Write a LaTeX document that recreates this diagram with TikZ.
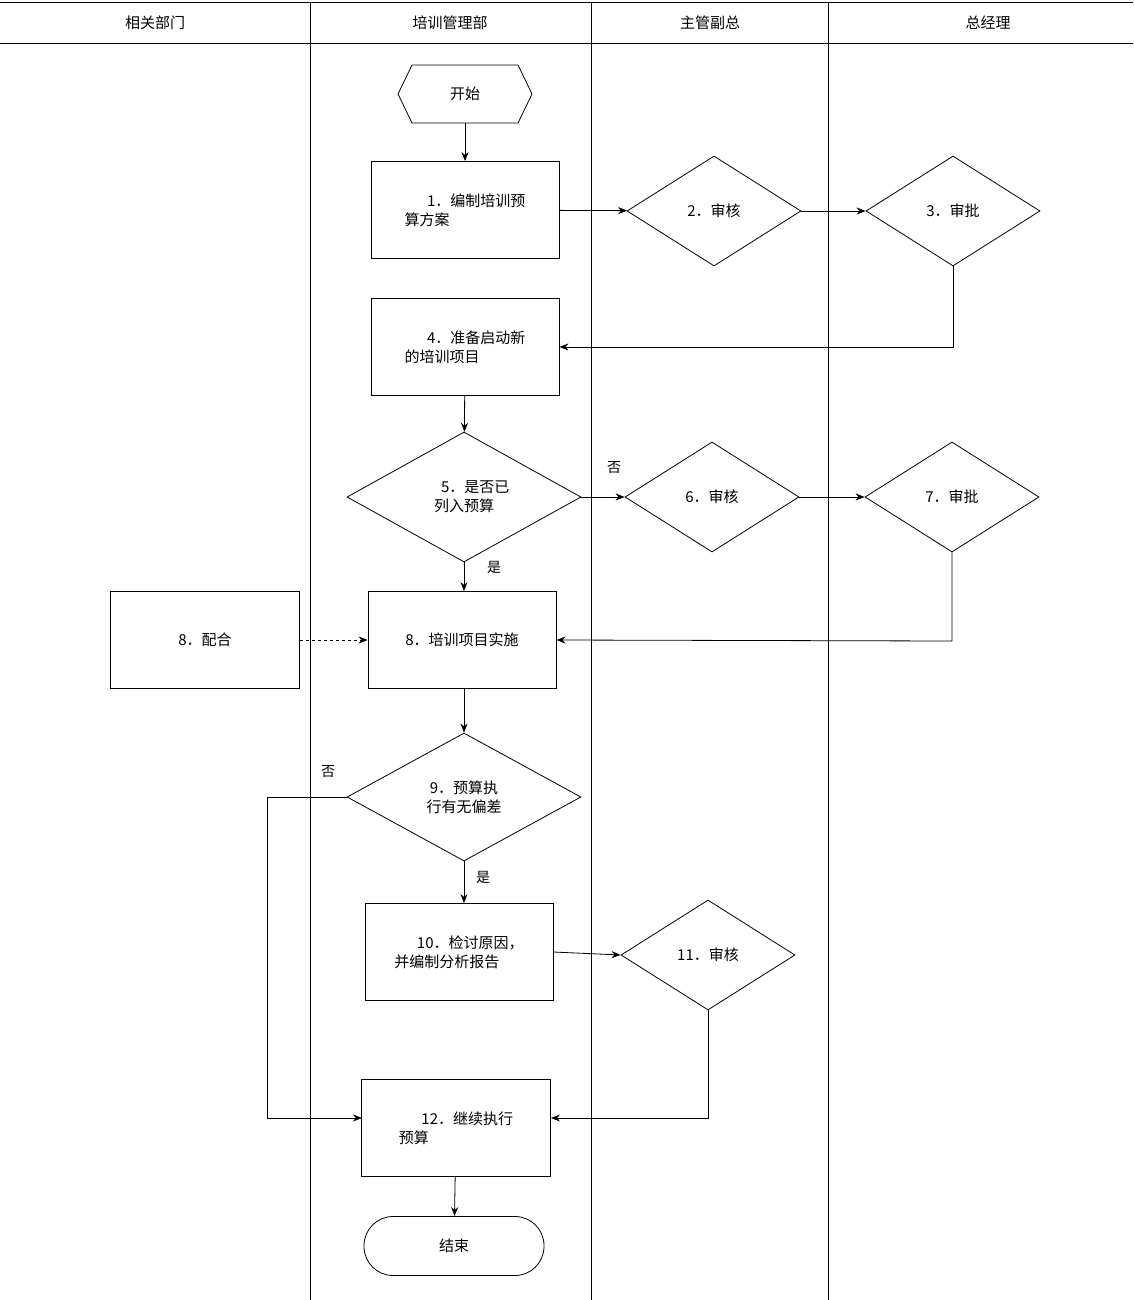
\documentclass[tikz,border=0pt]{standalone}
\usepackage{fontspec}
\setmainfont{Noto Sans CJK SC}
\usetikzlibrary{shapes.geometric,arrows.meta}
\begin{document}
\begin{tikzpicture}[x=1pt,y=-1pt,
 every node/.style={font=\fontsize{15}{19}\selectfont},
 box/.style={draw,thick,minimum width=188,minimum height=97,inner sep=4,align=left},
 dia/.style={draw,thick,diamond,minimum width=174,minimum height=110,inner sep=0,align=center},
 arr/.style={thick,-{Stealth[length=9,width=7]}},
 lbl/.style={font=\fontsize{14}{16}\selectfont}]
\useasboundingbox (0,0) rectangle (1133,1300);
\draw[thick] (0,2)--(1133,2) (0,43)--(1133,43);
\draw[thick] (310,2)--(310,1300) (591,2)--(591,1300) (828,2)--(828,1300);
\node at (155,23) {相关部门};
\node at (450,23) {培训管理部};
\node at (710,23) {主管副总};
\node at (988,23) {总经理};
\draw[thick] (398,94)--(412,65)--(518,65)--(532,94)--(518,123)--(412,123)--cycle;
\node (s) at (465,94) {开始};
\coordinate (sb) at (465,123);
\node[box] (b1) at (465,210) {\hspace{1.5em}1．编制培训预\\算方案};
\node[dia] (d2) at (714,211) {2．审核};
\node[dia] (d3) at (953,211) {3．审批};
\node[box] (b4) at (465,347) {\hspace{1.5em}4．准备启动新\\的培训项目};
\node[dia,minimum width=234,minimum height=130] (d5) at (464,497) {\hspace{1.5em}5．是否已\\列入预算};
\node[dia] (d6) at (712,497) {6．审核};
\node[dia] (d7) at (952,497) {7．审批};
\node[box,minimum width=189] (l8) at (205,640) {8．配合};
\node[box,align=center] (b8) at (462,640) {8．培训项目实施};
\node[dia,minimum width=234,minimum height=128] (d9) at (464,797) {9．预算执\\行有无偏差};
\node[box] (b10) at (459,952) {\hspace{1.5em}10．检讨原因，\\并编制分析报告};
\node[dia] (d11) at (708,955) {11．审核};
\node[box,minimum width=189] (b12) at (456,1128) {\hspace{1.5em}12．继续执行\\预算};
\node[draw,thick,rounded corners=29,minimum width=180,minimum height=59] (e) at (454,1246) {结束};
\draw[arr] (sb)--(b1);
\draw[arr] (b1)--(d2);
\draw[arr] (d2)--(d3);
\draw[arr] (d3.south)--(953,347)--(b4.east);
\draw[arr] (b4)--(d5);
\draw[arr] (d5.east)--(d6.west);
\node[lbl] at (614,468) {否};
\draw[arr] (d6)--(d7);
\draw[arr] (d7.south)--(952,641)--(b8.east);
\draw[arr] (d5.south)--(464,591);
\node[lbl] at (494,567) {是};
\draw[arr,dashed] (l8.east)--(b8.west);
\draw[arr] (464,689)--(d9.north);
\draw[arr] (d9.west)--(267,797)--(267,1118)--(362,1118);
\node[lbl] at (328,772) {否};
\draw[arr] (d9.south)--(464,903);
\node[lbl] at (483,877) {是};
\draw[arr] (b10.east)--(d11.west);
\draw[arr] (d11.south)--(708,1118)--(551,1118);
\draw[arr] (b12)--(e);
\end{tikzpicture}
\end{document}
